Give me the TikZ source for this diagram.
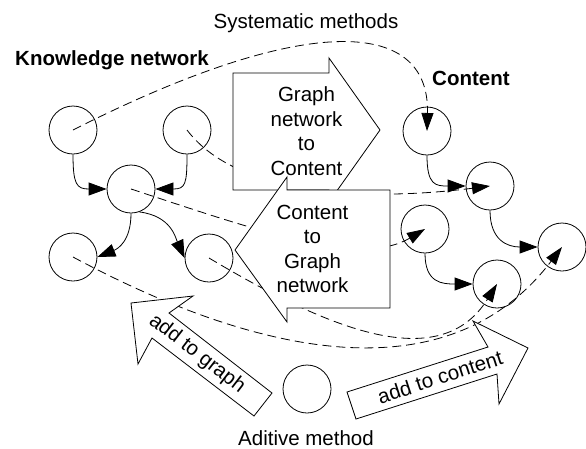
\documentclass[tikz,border=0pt]{standalone}
\usepackage{fontspec}
\setmainfont{Liberation Sans}
\usetikzlibrary{arrows.meta}

\begin{document}
\begin{tikzpicture}[
  x=1pt, y=-1pt,
  txt/.style={font=\fontsize{20.5}{24.5}\selectfont, inner sep=0pt},
  head/.style={font=\fontsize{20.5}{24.5}\selectfont\bfseries, inner sep=0pt},
  vtx/.style={circle, draw, line width=0.8pt, minimum size=48pt, inner sep=0pt},
  link/.style={line width=0.8pt, -{Triangle[length=18pt, width=13pt]}},
  map/.style={line width=0.8pt, dash pattern=on 9pt off 5pt, -{Triangle[length=18pt, width=12pt]}},
  bigarrow/.style={draw, line width=0.8pt, fill=white}
]
  \useasboundingbox (0,0) rectangle (586,448);

  % headings
  \node[txt, anchor=base] (sys) at (306,28) {Systematic methods};
  \node[head, anchor=base west] (kntitle) at (15,65) {Knowledge network};
  \node[head, anchor=base west] (cttitle) at (432,85) {Content};
  \node[txt, anchor=base west] (addtitle) at (238,445) {Aditive method};

  % knowledge network (left)
  \node[vtx] (k1) at (73,130) {};
  \node[vtx] (k2) at (187,130) {};
  \node[vtx] (k3) at (131,189) {};
  \node[vtx] (k4) at (73,257) {};
  \node[vtx] (k5) at (209,258) {};

  % content (right)
  \node[vtx] (c1) at (427,131) {};
  \node[vtx] (c2) at (490,186) {};
  \node[vtx] (c3) at (425,229) {};
  \node[vtx] (c4) at (562,247) {};
  \node[vtx] (c5) at (497,284) {};

  % additive method
  \node[vtx] (add) at (307,389) {};

  % systematic mappings graph -> content
  \draw[map] (k1.center) .. controls (300,15) and (430,15) .. (c1.center);
  \draw[map] (k2.center) .. controls (240,200) and (380,200) .. (c2.center);
  \draw[map] (k3.center) .. controls (250,228) and (360,268) .. (c3.center);
  \draw[map] (k5.center) .. controls (330,330) and (440,375) .. (c5.center);
  \draw[map] (k4.center) .. controls (200,325) and (430,420) .. (c4.center);

  % big conversion arrows
  \draw[bigarrow] (233,73) -- (329,73) -- (329,58) -- (380,130) -- (329,202) -- (329,190) -- (233,190) -- cycle;
  \node[txt, align=center] (g2c) at (306.5,131) {Graph\\network\\to\\Content};
  \draw[bigarrow] (390,190) -- (287,190) -- (287,177) -- (235,250) -- (287,322) -- (287,308) -- (390,308) -- cycle;
  \node[txt, align=center] (c2g) at (312.5,249) {Content\\to\\Graph\\network};

  \draw[bigarrow] (131,303) -- (193,296) -- (169,313) -- (272,393) -- (254,416) -- (152,338) -- (138,364) -- cycle;
  \node[txt, rotate=-37.7] (a2g) at (197,354) {add to graph};
  \draw[bigarrow] (528,348) -- (499,404) -- (497,374) -- (356,419) -- (347,392) -- (488,347) -- (473,321) -- cycle;
  \node[txt, rotate=18] (a2c) at (440,377) {add to content};

  % edges inside each network
  \draw[link] (k1.south) .. controls +(0,30) and +(-30,0) .. (k3.west);
  \draw[link] (k2.south) .. controls +(0,30) and +(30,0) .. (k3.east);
  \draw[link] (k3.south) .. controls +(0,28) and +(20,-8) .. (k4.east);
  \draw[link] (k3.-70) .. controls +(32,4) and +(-9,-20) .. (k5.west);
  \draw[link] (c1.south) .. controls +(0,30) and +(-30,0) .. (c2.west);
  \draw[link] (c2.south) .. controls +(0,30) and +(-30,0) .. (c4.west);
  \draw[link] (c3.south) .. controls +(0,30) and +(-30,0) .. (c5.west);
\end{tikzpicture}
\end{document}
